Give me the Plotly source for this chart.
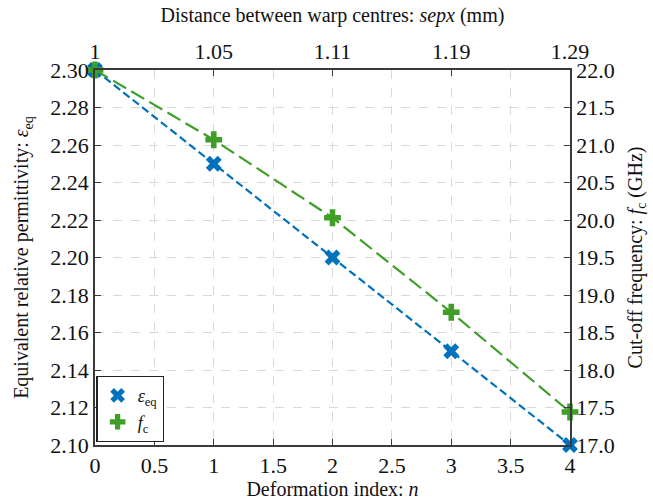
import plotly.graph_objects as go

n_index = [0, 1, 2, 3, 4]
eps_eq = [2.30, 2.25, 2.20, 2.15, 2.10]
fc_ghz = [22.0, 21.07, 20.03, 18.77, 17.44]
sepx_labels = ["1", "1.05", "1.11", "1.19", "1.29"]

BLUE = "#0072BD"
GREEN = "#3E9E26"
AX = "#3a3a3a"
GRID = "#d9d9d9"
FONT = "Liberation Serif"
TS = 22   # tick labels
FS = 20   # titles

fig = go.Figure()
fig.add_trace(go.Scatter(
    x=n_index, y=eps_eq, mode="lines+markers", showlegend=False,
    line=dict(color=BLUE, width=2.2, dash="8px,4px"),
    marker=dict(symbol="x", size=14, color=BLUE),
    cliponaxis=False, xaxis="x", yaxis="y"))
fig.add_trace(go.Scatter(
    x=n_index, y=fc_ghz, mode="lines+markers", showlegend=False,
    line=dict(color=GREEN, width=2.2, dash="15px,6px"),
    marker=dict(symbol="cross", size=14, color=GREEN),
    cliponaxis=False, xaxis="x", yaxis="y2"))
# legend entries (markers only)
fig.add_trace(go.Scatter(
    x=[None], y=[None], mode="markers", name="<i>ε</i><sub>eq</sub>",
    marker=dict(symbol="x", size=13, color=BLUE), xaxis="x", yaxis="y"))
fig.add_trace(go.Scatter(
    x=[None], y=[None], mode="markers", name="<i>f</i><sub>c</sub>",
    marker=dict(symbol="cross", size=13, color=GREEN), xaxis="x", yaxis="y"))
fig.add_trace(go.Scatter(
    x=n_index, y=eps_eq, mode="markers", marker=dict(opacity=0),
    showlegend=False, hoverinfo="skip", xaxis="x2", yaxis="y"))

axis_common = dict(showline=True, linecolor=AX, linewidth=1.5, ticks="inside",
                   tickcolor=AX, ticklen=6, tickwidth=1.2,
                   tickfont=dict(family=FONT, size=TS, color="#111"),
                   zeroline=False, automargin=False)

fig.update_layout(
    width=653, height=500,
    margin=dict(l=95, r=83, t=70, b=55),
    paper_bgcolor="white", plot_bgcolor="white",
    font=dict(family=FONT, size=FS, color="#111"),
    showlegend=True,
    legend=dict(x=0.003, y=0.008, xanchor="left", yanchor="bottom",
                bgcolor="white", bordercolor="#222", borderwidth=1.2,
                font=dict(family=FONT, size=18), itemwidth=30,
                tracegroupgap=0),
    xaxis=dict(range=[0, 4], tickvals=[0, 0.5, 1, 1.5, 2, 2.5, 3, 3.5, 4],
               ticktext=["0", "0.5", "1", "1.5", "2", "2.5", "3", "3.5", "4"],
               showgrid=True, gridcolor=GRID, griddash="dash", gridwidth=1,
               title=dict(text="Deformation index: <i>n</i>", standoff=0,
                          font=dict(family=FONT, size=FS)),
               mirror=False, **axis_common),
    xaxis2=dict(range=[0, 4], overlaying="x", side="top", tickvals=n_index,
                ticktext=sepx_labels, showgrid=False,
                title=dict(text="Distance between warp centres: <i>sepx</i> (mm)", standoff=11,
                           font=dict(family=FONT, size=FS)),
                **axis_common),
    yaxis=dict(range=[2.10, 2.30], dtick=0.02, tickformat=".2f",
               showgrid=True, gridcolor=GRID, griddash="dash", gridwidth=1,
               title=dict(text="Equivalent relative permittivity: <i>ε</i><sub>eq</sub>", standoff=16,
                          font=dict(family=FONT, size=FS)),
               **axis_common),
    yaxis2=dict(range=[17, 22], dtick=0.5, tickformat=".1f", overlaying="y", side="right",
                showgrid=False,
                title=dict(text="Cut-off frequency: <i>f</i><sub>c</sub> (GHz)", standoff=14,
                           font=dict(family=FONT, size=FS)),
                **axis_common),
)

fig.write_html("out.html", post_script="document.body.style.margin='0px';",
               config={"displayModeBar": False})
